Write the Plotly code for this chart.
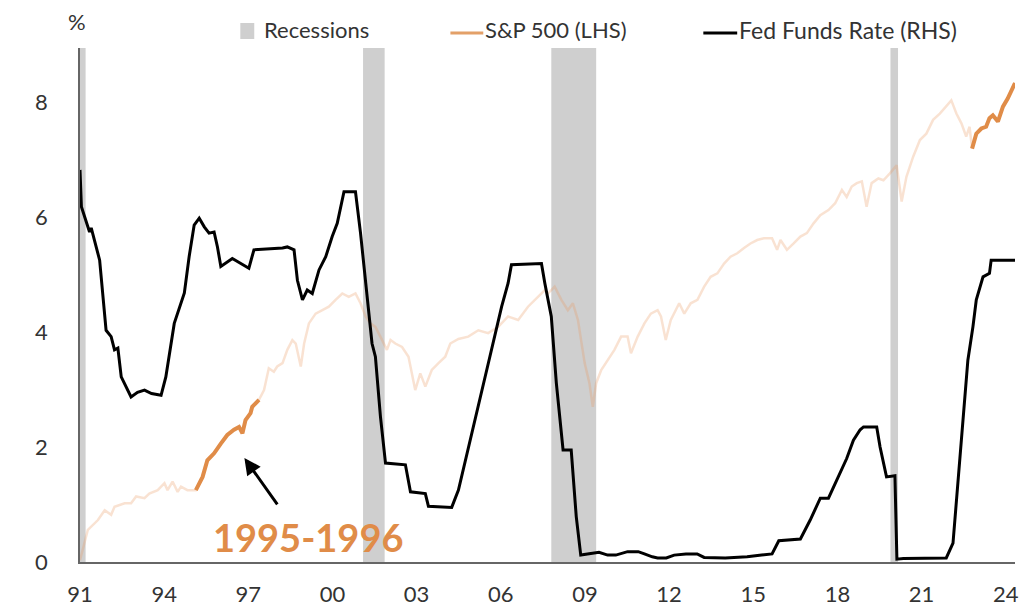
import plotly.graph_objects as go

# ---------------- data (decimal years) ----------------
ffr_year = [1991.0, 1991.05, 1991.34, 1991.40, 1991.70, 1991.93, 1992.11, 1992.23, 1992.35, 1992.47,
            1992.82, 1993.05, 1993.30, 1993.55, 1993.89, 1994.06, 1994.36, 1994.72, 1994.89, 1995.07,
            1995.25, 1995.43, 1995.60, 1995.78, 1995.90, 1996.02, 1996.43, 1997.02, 1997.20, 1998.03,
            1998.22, 1998.39, 1998.63, 1998.75, 1998.93, 1999.10, 1999.28, 1999.52, 1999.76, 1999.99,
            2000.17, 2000.41, 2000.82, 2001.00, 2001.18, 2001.41, 2001.53, 2001.71, 2001.89, 2002.60,
            2002.78, 2003.31, 2003.42, 2004.25, 2004.49, 2004.90, 2005.32, 2005.61, 2006.03, 2006.26,
            2006.38, 2007.45, 2007.57, 2007.80, 2007.98, 2008.22, 2008.51, 2008.69, 2008.85, 2009.22,
            2009.50, 2009.81, 2010.10, 2010.52, 2010.90, 2011.12, 2011.40, 2011.59, 2011.90, 2012.18,
            2012.60, 2013.00, 2013.25, 2014.00, 2014.78, 2015.30, 2015.67, 2015.91, 2016.68, 2017.03,
            2017.39, 2017.68, 2017.92, 2018.16, 2018.33, 2018.57, 2018.81, 2018.93, 2019.40, 2019.52,
            2019.75, 2020.05, 2020.12, 2020.35, 2021.88, 2022.12, 2022.35, 2022.65, 2022.83, 2022.95,
            2023.19, 2023.42, 2023.48, 2024.33]
ffr_val = [6.82, 6.18, 5.74, 5.81, 5.25, 4.03, 3.92, 3.69, 3.72, 3.22,
           2.87, 2.95, 2.99, 2.93, 2.90, 3.22, 4.15, 4.68, 5.31, 5.86,
           5.98, 5.83, 5.72, 5.74, 5.48, 5.14, 5.28, 5.11, 5.43, 5.46,
           5.46, 5.48, 5.43, 4.90, 4.56, 4.73, 4.67, 5.08, 5.31, 5.66,
           5.89, 6.44, 6.44, 5.72, 4.85, 3.80, 3.57, 2.53, 1.72, 1.69,
           1.22, 1.19, 0.97, 0.95, 1.25, 2.12, 2.99, 3.57, 4.44, 4.85,
           5.17, 5.19, 4.85, 4.27, 3.11, 1.95, 1.95, 0.79, 0.12, 0.15,
           0.17, 0.12, 0.12, 0.18, 0.18, 0.14, 0.09, 0.07, 0.07, 0.12,
           0.14, 0.14, 0.08, 0.07, 0.09, 0.12, 0.14, 0.37, 0.40, 0.73,
           1.11, 1.11, 1.37, 1.63, 1.80, 2.12, 2.30, 2.35, 2.35, 2.00,
           1.48, 1.50, 0.05, 0.06, 0.07, 0.33, 1.77, 3.51, 4.09, 4.56,
           4.96, 5.02, 5.25, 5.25]

sp_year = [1991.0, 1991.28, 1991.64, 1991.88, 1992.11, 1992.23, 1992.59, 1992.82, 1993.00, 1993.30,
           1993.47, 1993.77, 1994.01, 1994.12, 1994.30, 1994.48, 1994.60, 1994.83, 1995.13, 1995.37,
           1995.54, 1995.78, 1996.02, 1996.25, 1996.49, 1996.67, 1996.79, 1996.90, 1997.08, 1997.14,
           1997.26, 1997.38, 1997.56, 1997.73, 1997.91, 1998.03, 1998.22, 1998.39, 1998.57, 1998.69,
           1998.87, 1998.99, 1999.16, 1999.40, 1999.64, 1999.87, 2000.11, 2000.35, 2000.58, 2000.82,
           2001.00, 2001.18, 2001.35, 2001.53, 2001.77, 2001.94, 2002.07, 2002.24, 2002.48, 2002.71,
           2002.95, 2003.13, 2003.31, 2003.54, 2003.78, 2004.02, 2004.20, 2004.49, 2004.84, 2005.20,
           2005.55, 2005.91, 2006.26, 2006.62, 2006.97, 2007.33, 2007.57, 2007.68, 2007.92, 2008.16,
           2008.39, 2008.57, 2008.75, 2008.99, 2009.16, 2009.28, 2009.40, 2009.58, 2009.81, 2010.05,
           2010.29, 2010.52, 2010.64, 2010.88, 2011.12, 2011.35, 2011.59, 2011.71, 2011.88, 2012.06,
           2012.36, 2012.54, 2012.77, 2013.01, 2013.25, 2013.48, 2013.72, 2013.96, 2014.19, 2014.43,
           2014.67, 2014.90, 2015.14, 2015.38, 2015.67, 2015.85, 2015.97, 2016.20, 2016.44, 2016.68,
           2016.91, 2017.15, 2017.39, 2017.68, 2017.92, 2018.16, 2018.33, 2018.51, 2018.69, 2018.87,
           2019.04, 2019.22, 2019.46, 2019.64, 2019.87, 2020.11, 2020.29, 2020.46, 2020.70, 2020.94,
           2021.17, 2021.41, 2021.65, 2021.88, 2022.06, 2022.24, 2022.42, 2022.59, 2022.71, 2022.80,
           2022.95, 2023.13, 2023.30, 2023.42, 2023.54, 2023.72, 2023.90, 2024.07, 2024.33]
sp_val = [0.03, 0.56, 0.73, 0.90, 0.82, 0.96, 1.02, 1.02, 1.14, 1.11,
          1.19, 1.25, 1.37, 1.25, 1.40, 1.22, 1.31, 1.25, 1.25, 1.48,
          1.77, 1.89, 2.06, 2.21, 2.30, 2.35, 2.24, 2.47, 2.59, 2.70,
          2.76, 2.82, 2.99, 3.37, 3.31, 3.40, 3.46, 3.69, 3.86, 3.80,
          3.40, 3.80, 4.15, 4.32, 4.38, 4.44, 4.56, 4.67, 4.61, 4.67,
          4.50, 4.27, 4.15, 4.09, 3.86, 3.69, 3.86, 3.80, 3.74, 3.57,
          2.99, 3.28, 3.05, 3.34, 3.46, 3.57, 3.80, 3.88, 3.92, 4.03,
          3.98, 4.09, 4.27, 4.21, 4.44, 4.61, 4.73, 4.67, 4.79, 4.56,
          4.38, 4.50, 4.21, 3.46, 3.11, 2.70, 3.11, 3.34, 3.51, 3.69,
          3.92, 3.92, 3.63, 3.92, 4.15, 4.32, 4.38, 4.27, 3.86, 4.21,
          4.50, 4.32, 4.50, 4.56, 4.79, 4.96, 5.02, 5.19, 5.31, 5.37,
          5.46, 5.54, 5.60, 5.63, 5.63, 5.43, 5.60, 5.43, 5.54, 5.66,
          5.72, 5.89, 6.03, 6.12, 6.24, 6.47, 6.35, 6.53, 6.59, 6.62,
          6.18, 6.59, 6.67, 6.64, 6.76, 6.90, 6.27, 6.70, 7.05, 7.34,
          7.45, 7.69, 7.80, 7.92, 8.03, 7.80, 7.63, 7.40, 7.57, 7.19,
          7.45, 7.54, 7.57, 7.72, 7.77, 7.66, 7.92, 8.06, 8.33]

highlight_start = [1995.13, 2022.80]
highlight_end = [1997.38, 2024.33]

recession_start = [1991.0, 2001.09, 2007.80, 2019.89]
recession_end = [1991.2, 2001.86, 2009.40, 2020.16]

tick_years = [1991, 1994, 1997, 2000, 2003, 2006, 2009, 2012, 2015, 2018, 2021, 2024]
tick_labels = ["91", "94", "97", "00", "03", "06", "09", "12", "15", "18", "21", "24"]
y_ticks = [0, 2, 4, 6, 8]

# ---------------- styling ----------------
FONT = "Lato"
FS = 22
ORANGE = "#E08C48"
FADED = "rgba(232,150,95,0.28)"
GREY_TXT = "#333333"
REC = "#CFCFCF"

L, T, B = 80, 48, 46
W, H = 1019, 608
PW, PH = W - L, H - T - B


def px(xp):
    return (xp - L) / PW


def py(yp):
    return (H - B - yp) / PH


fig = go.Figure()

fig.add_trace(go.Scatter(x=sp_year, y=sp_val, mode="lines",
                         line=dict(color=FADED, width=2.5), showlegend=False, hoverinfo="skip"))
fig.add_trace(go.Scatter(x=ffr_year, y=ffr_val, mode="lines",
                         line=dict(color="black", width=3), name="Fed Funds Rate (RHS)", showlegend=False))
for s, e in zip(highlight_start, highlight_end):
    xs = [x for x in sp_year if s <= x <= e]
    ys = [v for x, v in zip(sp_year, sp_val) if s <= x <= e]
    fig.add_trace(go.Scatter(x=xs, y=ys, mode="lines",
                             line=dict(color=ORANGE, width=4), showlegend=False))

shapes = []
for s, e in zip(recession_start, recession_end):
    shapes.append(dict(type="rect", xref="x", yref="paper", x0=s, x1=e, y0=0, y1=1,
                       fillcolor=REC, line=dict(width=0), layer="below"))

# manual legend
shapes.append(dict(type="rect", xref="paper", yref="paper", x0=px(241), x1=px(255), y0=py(39), y1=py(23),
                   fillcolor=REC, line=dict(width=0)))
shapes.append(dict(type="line", xref="paper", yref="paper", x0=px(452), x1=px(485), y0=py(33), y1=py(33),
                   line=dict(color="#E3A068", width=3)))
shapes.append(dict(type="line", xref="paper", yref="paper", x0=px(706), x1=px(740), y0=py(33), y1=py(33),
                   line=dict(color="black", width=3)))

annotations = [
    dict(text="Recessions", xref="paper", yref="paper", x=px(263), y=py(30), xanchor="left", yanchor="middle",
         showarrow=False, font=dict(family=FONT, size=FS, color=GREY_TXT)),
    dict(text="S&P 500 (LHS)", xref="paper", yref="paper", x=px(485), y=py(30), xanchor="left", yanchor="middle",
         showarrow=False, font=dict(family=FONT, size=FS, color=GREY_TXT)),
    dict(text="Fed Funds Rate (RHS)", xref="paper", yref="paper", x=px(740), y=py(30), xanchor="left",
         yanchor="middle", showarrow=False, font=dict(family=FONT, size=FS + 1, color=GREY_TXT)),
    dict(text="%", xref="paper", yref="paper", x=px(77), y=py(22), xanchor="center", yanchor="middle",
         showarrow=False, font=dict(family=FONT, size=FS, color=GREY_TXT)),
    dict(text="<b>1995-1996</b>", xref="x", yref="y", x=1999.16, y=0.43, xanchor="center", yanchor="middle",
         showarrow=False, font=dict(family=FONT, size=38, color=ORANGE)),
    dict(text="", xref="x", yref="y", x=1996.86, y=1.81, ax=34, ay=48, showarrow=True,
         arrowhead=2, arrowsize=1.1, arrowwidth=3, arrowcolor="black", standoff=0),
]

fig.update_layout(
    width=W, height=H, autosize=False,
    margin=dict(l=L, r=0, t=T, b=B, pad=0),
    paper_bgcolor="white", plot_bgcolor="white",
    shapes=shapes, annotations=annotations,
    showlegend=False,
    font=dict(family=FONT, size=FS, color=GREY_TXT),
    xaxis=dict(range=[1991, 2024.33], tickvals=tick_years, ticktext=tick_labels,
               showgrid=False, zeroline=False, showline=True, linecolor="#666666", linewidth=1.5,
               ticks="", ticklabelstandoff=12, ticklabeloverflow="allow",
               tickfont=dict(family=FONT, size=FS, color=GREY_TXT)),
    yaxis=dict(range=[0, 8.94], tickvals=y_ticks, showgrid=False, zeroline=False,
               showline=True, linecolor="#666666", linewidth=1.5,
               ticks="", ticklabelstandoff=26, tickfont=dict(family=FONT, size=FS, color=GREY_TXT)),
)

fig.write_html("out.html", config={"displayModeBar": False},
               post_script="document.body.style.margin='0';document.body.style.overflow='hidden';")
